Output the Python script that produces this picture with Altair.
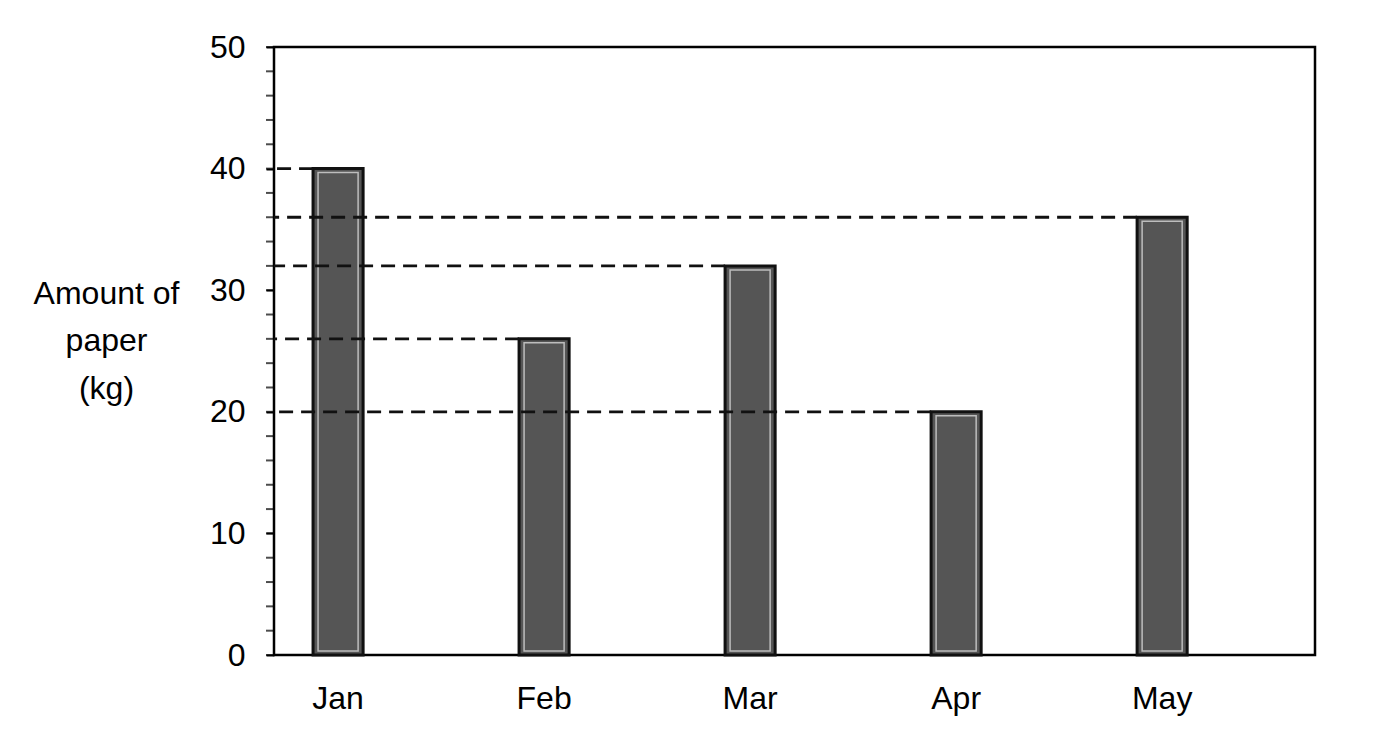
import altair as alt
import pandas as pd

months = ["Jan", "Feb", "Mar", "Apr", "May"]
amounts = [40, 26, 32, 20, 36]
y_label_values = [0, 10, 20, 30, 40, 50]
y_minor_values = list(range(0, 51, 2))
y_title = ["Amount of", "paper", "(kg)"]

df = pd.DataFrame({"month": months, "amount": amounts})
df_minor = pd.DataFrame({"v": y_minor_values})

FONT = "Liberation Sans"
FS = 32

xscale = alt.Scale(domain=months, paddingInner=0.757, paddingOuter=0.405, align=0.234)
yscale = alt.Scale(domain=[0, 50], nice=False, zero=True)

base = alt.Chart(df)

bars = base.mark_bar(color="#555555", stroke="#111111", strokeWidth=3).encode(
    x=alt.X(
        "month:N",
        sort=months,
        scale=xscale,
        axis=alt.Axis(
            title=None,
            labelAngle=0,
            ticks=False,
            domain=False,
            labelFontSize=FS,
            labelPadding=28,
            labelColor="black",
            labelFont=FONT,
        ),
    ),
    y=alt.Y(
        "amount:Q",
        scale=yscale,
        axis=alt.Axis(
            values=y_label_values,
            labelOverlap=False,
            labelFlush=False,
            title=y_title,
            titleAngle=0,
            titleAlign="center",
            titleBaseline="alphabetic",
            titleX=-168,
            titleY=256,
            titleLineHeight=47.5,
            titleFontSize=FS,
            titleFontWeight="normal",
            titleFont=FONT,
            titleColor="black",
            tickSize=8,
            tickWidth=2,
            tickColor="black",
            domain=False,
            grid=False,
            labelFontSize=FS,
            labelPadding=21,
            labelColor="black",
            labelFont=FONT,
        ),
    ),
)

inner = base.mark_bar(
    width=alt.RelativeBandSize(0.8),
    fillOpacity=0,
    stroke="#bdbdbd",
    strokeWidth=1.5,
    yOffset=4,
    y2Offset=-4,
).encode(
    x=alt.X("month:N", sort=months, scale=xscale),
    y=alt.Y("amount:Q", scale=yscale, stack=None),
    y2=alt.datum(0),
)

rules = base.mark_rule(strokeDash=[14, 8], strokeWidth=2.8, color="#111111").encode(
    x=alt.X("month:N", sort=months, scale=xscale, bandPosition=0),
    x2=alt.value(0),
    y=alt.Y("amount:Q", scale=yscale),
)

minor = alt.Chart(df_minor).mark_tick(
    orient="horizontal", size=8, thickness=2, color="black"
).encode(
    x=alt.value(-4),
    y=alt.Y("v:Q", scale=yscale),
)

chart = (
    alt.layer(bars, inner, rules, minor)
    .properties(
        width=1041,
        height=608,
        autosize=alt.AutoSizeParams(type="none"),
        padding={"left": 266, "top": 39, "right": 60, "bottom": 70},
        background="white",
    )
    .configure(font=FONT)
    .configure_view(stroke="black", strokeWidth=2.5)
)

chart.save("out.html", embed_options={"renderer": "svg", "actions": False})
